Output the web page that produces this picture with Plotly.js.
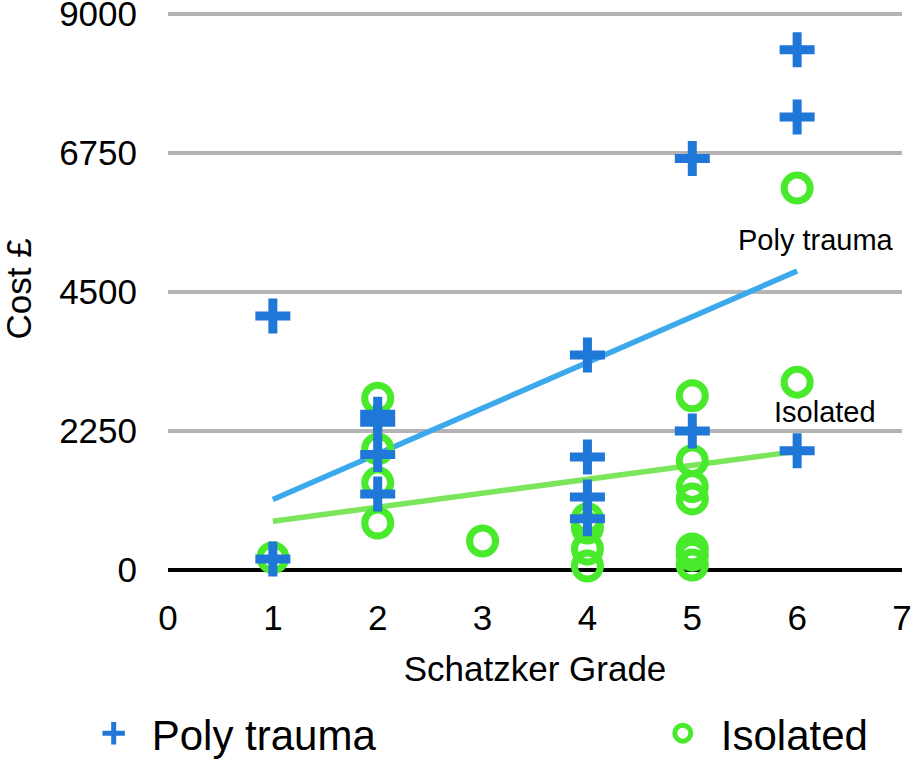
<!DOCTYPE html>
<html>
<head>
<meta charset="utf-8">
<script src="https://cdn.plot.ly/plotly-3.0.1.min.js"></script>
<style>
  html, body { margin: 0; padding: 0; background: #fff; }
  #chart { width: 912px; height: 760px; }
</style>
</head>
<body>
<div id="chart"></div>
<script>
// Schatzker grade vs cost
const polyGrade = [1, 1, 2, 2, 2, 2, 4, 4, 4, 4, 5, 5, 6, 6, 6];
const polyCost = [4110, 180, 2520, 2390, 1870, 1230, 3480, 1830, 1180, 830, 6660, 2250, 8420, 7330, 1930];

const isoGrade = [1, 2, 2, 2, 2, 3, 4, 4, 4, 4, 5, 5, 5, 5, 5, 5, 5, 6, 6];
const isoCost = [200, 2780, 1960, 1410, 760, 470, 830, 680, 340, 65, 2820, 1770, 1350, 1150, 340, 240, 80, 6180, 3040];

// linear trend lines, end points at grade 1 and 6
const trendGrade = [1, 6];
const polyTrend = [1140, 4840];
const isoTrend = [790, 1920];

const yTicks = [0, 2250, 4500, 6750, 9000];
const xTicks = [0, 1, 2, 3, 4, 5, 6, 7];

const FONT = 'Liberation Sans, Arial, Helvetica, sans-serif';
const BLUE = '#1f77d8';
const GREEN = '#48ea2b';

const traces = [
    {
        x: trendGrade, y: polyTrend, mode: 'lines', type: 'scatter',
        line: {color: '#3ca9ec', width: 5.5}, showlegend: false, hoverinfo: 'skip'
    },
    {
        x: trendGrade, y: isoTrend, mode: 'lines', type: 'scatter',
        line: {color: '#7be65b', width: 5.5}, showlegend: false, hoverinfo: 'skip'
    },
    {
        x: isoGrade, y: isoCost, mode: 'markers', type: 'scatter', name: 'Isolated',
        legend: 'legend2', cliponaxis: false,
        marker: {symbol: 'circle-open', size: 26, color: GREEN, line: {width: 7, color: GREEN}}
    },
    {
        x: polyGrade, y: polyCost, mode: 'markers', type: 'scatter', name: 'Poly trauma',
        legend: 'legend', cliponaxis: false,
        marker: {symbol: 'cross-thin', size: 25, color: BLUE, line: {width: 9, color: BLUE}}
    }
];

const legendBase = {
    orientation: 'h', xref: 'container', yref: 'container',
    y: 0.035, xanchor: 'left', yanchor: 'middle',
    itemwidth: 66, font: {size: 42}, bgcolor: 'rgba(0,0,0,0)'
};

const layout = {
    width: 912, height: 760,
    margin: {l: 168, r: 10, t: 8, b: 190},
    paper_bgcolor: '#fff', plot_bgcolor: '#fff',
    font: {family: FONT, color: '#000', size: 35},
    xaxis: {
        range: [0, 7], tickvals: xTicks, ticks: '', showgrid: false,
        zeroline: false, showline: false, ticklabelstandoff: 24,
        tickfont: {size: 35},
        title: {text: 'Schatzker Grade', font: {size: 35}, standoff: 20}
    },
    yaxis: {
        range: [0, 9095], tickvals: yTicks, ticks: '',
        showgrid: true, gridcolor: '#b4b4b4', gridwidth: 3.5,
        zeroline: true, zerolinecolor: '#000', zerolinewidth: 4,
        showline: false, ticklabelstandoff: 30, ticklabeloverflow: 'allow',
        tickfont: {size: 35}
    },
    showlegend: true,
    legend: Object.assign({}, legendBase, {x: 0.083}),
    legend2: Object.assign({}, legendBase, {x: 0.707}),
    annotations: [
        {
            // y axis title, placed by hand so it can sit at the very left edge
            x: -0.205, y: 0.5, xref: 'paper', yref: 'paper', text: 'Cost £',
            textangle: -90, showarrow: false, font: {size: 35},
            xanchor: 'center', yanchor: 'middle'
        },
        {
            x: 6.18, y: 5340, xref: 'x', yref: 'y', text: 'Poly trauma',
            showarrow: false, font: {size: 29}, xanchor: 'center', yanchor: 'middle'
        },
        {
            x: 6.27, y: 2560, xref: 'x', yref: 'y', text: 'Isolated',
            showarrow: false, font: {size: 29}, xanchor: 'center', yanchor: 'middle'
        }
    ]
};

Plotly.newPlot('chart', traces, layout, {displayModeBar: false, staticPlot: true});
</script>
</body>
</html>
